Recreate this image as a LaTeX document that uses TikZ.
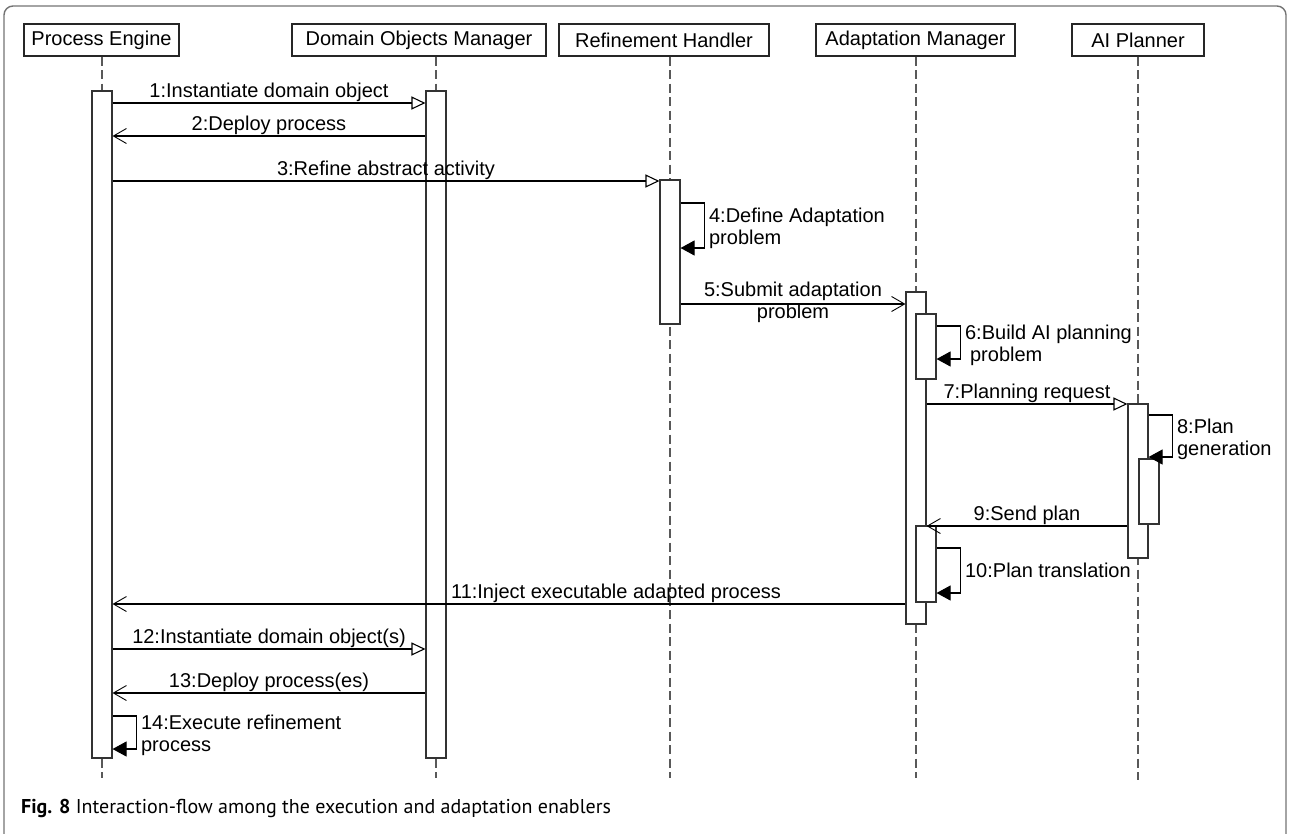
\documentclass[tikz,border=0pt]{standalone}
\usepackage{fontspec}
\setmainfont{Liberation Sans}
\newfontfamily\capfont{PT Sans}
\usetikzlibrary{arrows.meta}

\begin{document}
\begin{tikzpicture}[x=1pt,y=-1pt,
  font=\fontsize{20}{22}\selectfont,
  head/.style={draw=black!85, line width=1.1pt, minimum height=32pt, inner sep=0pt},
  lifeline/.style={draw=black!65, line width=1.1pt, dash pattern=on 9pt off 4.5pt},
  actbar/.style={draw=black!80, fill=white, line width=1.1pt, minimum width=20pt, inner sep=0pt},
  call/.style={draw=black, line width=1.1pt, -{Triangle[open, length=14pt, width=13pt, fill=white]}},
  reply/.style={draw=black, line width=1.1pt, -{Straight Barb[length=13pt, width=15pt, line width=0.9pt]}},
  selfcall/.style={draw=black, line width=1.1pt, -{Triangle[length=14pt, width=15pt]}},
  msg/.style={inner sep=1pt, text=black},
  selflabel/.style={right, align=left, inner sep=4pt, yshift=-3pt},
]
\useasboundingbox (0,0) rectangle (1289,833);

% outer frame, open at the bottom
\draw[draw=black!55, line width=1.4pt, rounded corners=9pt] (4,850) -- (4,6) -- (1286,6) -- (1286,850);

% participants
\node[head, minimum width=155pt] (pe)  at (101.5,40) {Process Engine};
\node[head, minimum width=254pt] (dom) at (419,40)   {Domain Objects Manager};
\node[head, minimum width=210pt] (rh)  at (664,40)   {Refinement Handler};
\node[head, minimum width=199pt] (am)  at (915.5,40) {Adaptation Manager};
\node[head, minimum width=132pt] (aip) at (1138,40)  {AI Planner};

% lifeline ends
\coordinate (peEnd)  at (102,778);
\coordinate (domEnd) at (436,778);
\coordinate (rhEnd)  at (670,778);
\coordinate (amEnd)  at (916,778);
\coordinate (aipEnd) at (1138,780);

\draw[lifeline] (pe.south -| peEnd) -- (peEnd);
\draw[lifeline] (dom.south -| domEnd) -- (domEnd);
\draw[lifeline] (rh.south -| rhEnd) -- (rhEnd);
\draw[lifeline] (am.south -| amEnd) -- (amEnd);
\draw[lifeline] (aip.south -| aipEnd) -- (aipEnd);

% activation bars
\node[actbar, minimum height=667pt] (pebar)  at (102,424.5) {};
\node[actbar, minimum height=667pt] (dombar) at (436,424.5) {};
\node[actbar, minimum height=144pt] (rhbar)  at (670,252) {};
\node[actbar, minimum height=332pt] (amout)  at (916,458) {};
\node[actbar, minimum height=65pt]  (amin1)  at (926,346.5) {};
\node[actbar, minimum height=76pt]  (amin2)  at (926,564) {};
\node[actbar, minimum height=154pt] (aipout) at (1138,481) {};
\node[actbar, minimum height=65pt]  (aipin)  at (1149,491.5) {};

% messages
\draw[call] (pebar.east |- 0,103) -- node[msg, above] {1:Instantiate domain object} (dombar.west |- 0,103);
\draw[reply] (dombar.west |- 0,136) -- node[msg, above] {2:Deploy process} (pebar.east |- 0,136);
\draw[call] (pebar.east |- 0,181) -- node[msg, above] {3:Refine abstract activity} (rhbar.west |- 0,181);

\draw[selfcall] (rhbar.east |- 0,203) -- ++(24,0)
  -- node[selflabel] {4:Define Adaptation\\problem} ++(0,45) -- (rhbar.east |- 0,248);

\draw[reply] (rhbar.east |- 0,304) -- node[msg, align=center, yshift=1.5pt] {5:Submit adaptation\\problem} (amout.west |- 0,304);

\draw[selfcall] (amin1.east |- 0,326) -- ++(24,0)
  -- node[selflabel] {6:Build AI planning\\\hspace{5pt}problem} ++(0,33) -- (amin1.east |- 0,359);

\draw[call] (amout.east |- 0,404) -- node[msg, above] {7:Planning request} (aipout.west |- 0,404);

\draw[selfcall] (aipout.east |- 0,415) -- ++(24,0)
  -- node[selflabel] {8:Plan\\generation} ++(0,42) -- (aipout.east |- 0,457);

\draw[reply] (aipout.west |- 0,526) -- node[msg, above] {9:Send plan} (amout.east |- 0,526);

\draw[selfcall] (amin2.east |- 0,548) -- ++(24,0)
  -- node[selflabel, yshift=3pt] {10:Plan translation} ++(0,45) -- (amin2.east |- 0,593);

\draw[reply] (amout.west |- 0,604) -- node[msg, above, pos=0.365] {11:Inject executable adapted process} (pebar.east |- 0,604);

\draw[call] (pebar.east |- 0,649) -- node[msg, above] {12:Instantiate domain object(s)} (dombar.west |- 0,649);
\draw[reply] (dombar.west |- 0,693) -- node[msg, above] {13:Deploy process(es)} (pebar.east |- 0,693);

\draw[selfcall] (pebar.east |- 0,716) -- ++(24,0)
  -- node[selflabel] {14:Execute refinement\\process} ++(0,33) -- (pebar.east |- 0,749);

% caption
\node[anchor=west, inner sep=0pt, font=\capfont\fontsize{20}{22}\selectfont] (caption) at (21,808)
  {\textbf{Fig. 8} Interaction-flow among the execution and adaptation enablers};
\end{tikzpicture}
\end{document}
